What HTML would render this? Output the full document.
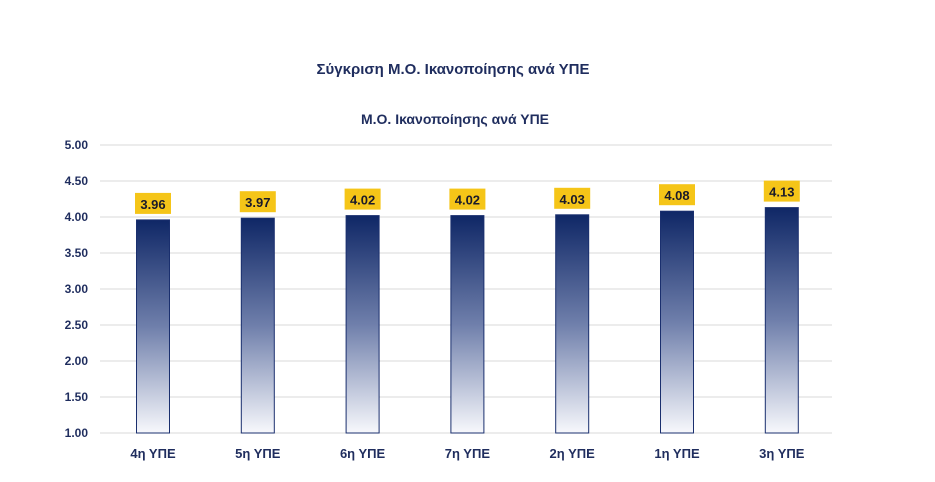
<!DOCTYPE html>
<html><head><meta charset="utf-8"><style>
body{margin:0;background:#fff;}
svg text{font-family:"Liberation Sans",sans-serif;font-weight:bold;}
</style></head><body>
<svg width="935" height="477" viewBox="0 0 935 477">
<defs><linearGradient id="g" x1="0" y1="0" x2="0" y2="1">
<stop offset="0" stop-color="#0f2766"/><stop offset="0.5" stop-color="#6f7fab"/><stop offset="1" stop-color="#f7f8fc"/></linearGradient></defs>
<text x="453" y="74" font-size="15" fill="#1f2d5e" text-anchor="middle">Σύγκριση Μ.Ο. Ικανοποίησης ανά ΥΠΕ</text>
<text x="455" y="124" font-size="14" fill="#1f2d5e" text-anchor="middle">Μ.Ο. Ικανοποίησης ανά ΥΠΕ</text>
<g stroke="#d9d9d9" stroke-width="1">
<line x1="100" x2="832" y1="145" y2="145"/><line x1="100" x2="832" y1="181" y2="181"/><line x1="100" x2="832" y1="217" y2="217"/><line x1="100" x2="832" y1="253" y2="253"/><line x1="100" x2="832" y1="289" y2="289"/><line x1="100" x2="832" y1="325" y2="325"/><line x1="100" x2="832" y1="361" y2="361"/><line x1="100" x2="832" y1="397" y2="397"/><line x1="100" x2="832" y1="433" y2="433"/>
</g>
<g font-size="12" fill="#1f2d5e" text-anchor="end">
<text x="88" y="149">5.00</text><text x="88" y="185">4.50</text><text x="88" y="221">4.00</text><text x="88" y="257">3.50</text><text x="88" y="293">3.00</text><text x="88" y="329">2.50</text><text x="88" y="365">2.00</text><text x="88" y="401">1.50</text><text x="88" y="437">1.00</text>
</g>
<g stroke="#1a2f6e" stroke-width="1" fill="url(#g)">
<rect x="136.5" y="219.9" width="33" height="213.1"/>
<rect x="241.3" y="218.2" width="33" height="214.8"/>
<rect x="346.1" y="215.6" width="33" height="217.4"/>
<rect x="450.9" y="215.6" width="33" height="217.4"/>
<rect x="555.7" y="214.8" width="33" height="218.2"/>
<rect x="660.5" y="211.2" width="33" height="221.8"/>
<rect x="765.3" y="207.6" width="33" height="225.4"/>
</g>
<g fill="#f5c518">
<rect x="135" y="192.9" width="36" height="21"/>
<rect x="239.8" y="191.2" width="36" height="21"/>
<rect x="344.6" y="188.6" width="36" height="21"/>
<rect x="449.4" y="188.6" width="36" height="21"/>
<rect x="554.2" y="187.8" width="36" height="21"/>
<rect x="659" y="184.2" width="36" height="21"/>
<rect x="763.8" y="180.6" width="36" height="21"/>
</g>
<g font-size="13" fill="#1a1a2a" text-anchor="middle">
<text x="153" y="208.9">3.96</text>
<text x="257.8" y="207.2">3.97</text>
<text x="362.6" y="204.6">4.02</text>
<text x="467.4" y="204.6">4.02</text>
<text x="572.2" y="203.8">4.03</text>
<text x="677" y="200.2">4.08</text>
<text x="781.8" y="196.6">4.13</text>
</g>
<g font-size="13" fill="#1f2d5e" text-anchor="middle">
<text x="153" y="458">4η ΥΠΕ</text>
<text x="257.8" y="458">5η ΥΠΕ</text>
<text x="362.6" y="458">6η ΥΠΕ</text>
<text x="467.4" y="458">7η ΥΠΕ</text>
<text x="572.2" y="458">2η ΥΠΕ</text>
<text x="677" y="458">1η ΥΠΕ</text>
<text x="781.8" y="458">3η ΥΠΕ</text>
</g>
</svg>
</body></html>
